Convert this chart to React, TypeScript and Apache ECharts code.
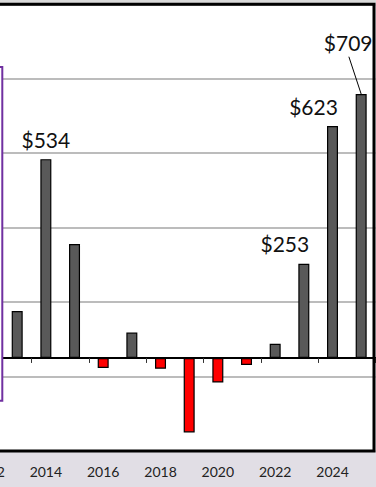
import React, { useEffect, useRef } from "react";
import * as echarts from "echarts";

const years = ["2012","2013","2014","2015","2016","2017","2018","2019","2020","2021","2022","2023","2024","2025"];
const values: (number | null)[] = [null, 126, 534, 306, -27, 68, -29, -200, -66, -19, 38, 253, 623, 709];
const labelledYears = ["2014", "2023", "2024", "2025"];
const yMin = -250;
const yMax = 950;
const yStep = 200;

// label placement (style only)
const labelPlacement: Record<string, { dx: number; distance: number }> = {
  "2014": { dx: 0, distance: 9 },
  "2023": { dx: -19, distance: 10 },
  "2024": { dx: -19, distance: 9 },
  "2025": { dx: -13, distance: 41 },
};

const FONT = "Lato, 'Open Sans', sans-serif";
const W = 440;
const H = 487;
const GL = 34.2;
const GR = 4.5;
const GT = 4.3;
const GB = 36;

export default function App() {
  const ref = useRef<HTMLDivElement>(null);
  useEffect(() => {
    if (!ref.current) return;
    const chart = echarts.init(ref.current, null, { renderer: "svg" });
    const data = values.map((v, i) => {
      const y = years[i];
      const lp = labelPlacement[y];
      return {
        value: v,
        itemStyle: { color: v !== null && v < 0 ? "#ff0000" : "#595959" },
        label: labelledYears.includes(y) && lp
          ? {
              show: true,
              position: "top",
              distance: lp.distance,
              offset: [lp.dx, 0],
              formatter: (p: any) => "$" + p.value,
              fontSize: 21,
              fontFamily: FONT,
              color: "#111",
            }
          : { show: false },
      };
    });
    chart.setOption({
      animation: false,
      backgroundColor: "#e1dee5",
      grid: {
        left: GL,
        right: GR,
        top: GT,
        bottom: GB,
        show: true,
        backgroundColor: "#ffffff",
        borderWidth: 0,
      },
      xAxis: [
        {
          type: "category",
          data: years,
          axisLine: { onZero: true, lineStyle: { color: "#000", width: 2 } },
          axisTick: { show: true, length: 5, lineStyle: { color: "#333", width: 1 } },
          axisLabel: { show: false },
          splitLine: { show: false },
        },
        {
          type: "category",
          data: years,
          position: "bottom",
          axisLine: { show: false, onZero: false },
          axisTick: { show: false },
          axisLabel: {
            interval: 1,
            fontSize: 14,
            fontFamily: FONT,
            color: "#222",
            margin: 13,
          },
        },
      ],
      yAxis: {
        type: "value",
        min: yMin,
        max: yMax,
        interval: yStep,
        axisLabel: { show: false },
        axisLine: { show: false },
        axisTick: { show: false },
        splitLine: { lineStyle: { color: "#a6a6a6", width: 1.5 } },
      },
      series: [
        {
          type: "bar",
          xAxisIndex: 0,
          barWidth: 11,
          itemStyle: { borderColor: "#000", borderWidth: 1.2 },
          data,
        },
      ],
      graphic: [
        {
          type: "rect",
          id: "topband",
          shape: { x: 0, y: 0, width: W, height: 3 },
          style: { fill: "#d9d9d9" },
          z: 4,
        },
        {
          type: "rect",
          id: "plotborder",
          shape: { x: GL, y: GT, width: W - 6 - GL, height: H - GB - GT },
          style: { fill: "none", stroke: "#000000", lineWidth: 3 },
          z: 5,
        },
        {
          type: "rect",
          id: "purplebox",
          shape: { x: 0, y: 67, width: 62.3, height: 333.7 },
          style: { fill: "#ffffff", stroke: "#7030a0", lineWidth: 2 },
          z: 10,
        },
      ],
    });
    const idx = years.indexOf("2025");
    const p = chart.convertToPixel({ xAxisIndex: 0, yAxisIndex: 0 }, [idx, values[idx] as number]) as number[];
    chart.setOption({
      graphic: [
        {
          type: "line",
          id: "leader",
          shape: { x1: p[0] - 12.3, y1: p[1] - 37.3, x2: p[0], y2: p[1] },
          style: { stroke: "#000", lineWidth: 1 },
          z: 10,
        },
      ],
    });
    return () => chart.dispose();
  }, []);
  return (
    <div
      ref={ref}
      style={{ position: "fixed", left: -60, top: 0, width: W, height: H }}
    />
  );
}
